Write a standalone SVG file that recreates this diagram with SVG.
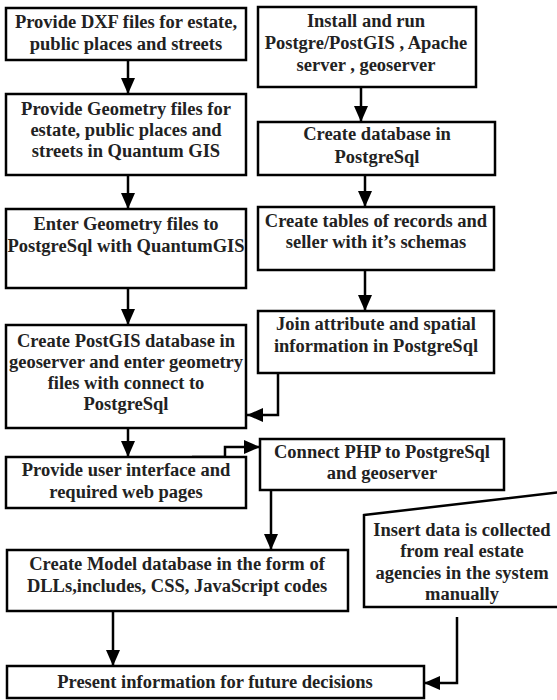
<svg xmlns="http://www.w3.org/2000/svg" width="557" height="700" viewBox="0 0 557 700">
<defs>
<style>
.box{fill:#fff;stroke:#000;stroke-width:2.5}
.t{font-family:"Liberation Serif","Times New Roman",serif;font-weight:bold;font-size:18.5px;fill:#222;text-anchor:middle}
.c{fill:none;stroke:#000;stroke-width:2.5;marker-end:url(#ah)}
</style>
<marker id="ah" viewBox="0 0 16 14" refX="16" refY="7" markerWidth="16" markerHeight="14" orient="auto" markerUnits="userSpaceOnUse">
<path d="M0,0 L16,7 L0,14 z" fill="#000"/>
</marker>
</defs>
<rect width="557" height="700" fill="#fff"/>
<g id="connectors">
<path class="c" d="M128,60 V94"/>
<path class="c" d="M128,175 V209"/>
<path class="c" d="M128,288 V325"/>
<path class="c" d="M128,428 V457"/>
<path class="c" d="M361,87 V122"/>
<path class="c" d="M365,175 V207"/>
<path class="c" d="M365,270 V311"/>
<path class="c" d="M278,373 V415 H247"/>
<path class="c" d="M192,457 H225 V447 H260"/>
<path class="c" d="M271,490 V550"/>
<path class="c" d="M113,611 V666"/>
<path class="c" d="M457,617 V683 H424"/>
</g>
<g id="n1"><rect class="box" x="6" y="8" width="240" height="52"/>
<text class="t" x="126" y="28">Provide DXF files for estate,</text>
<text class="t" x="126" y="50">public places and streets</text></g>
<g id="n2"><rect class="box" x="6" y="94" width="240" height="81"/>
<text class="t" x="126" y="115">Provide Geometry files for</text>
<text class="t" x="126" y="136">estate, public places and</text>
<text class="t" x="126" y="157">streets in Quantum GIS</text></g>
<g id="n3"><rect class="box" x="6" y="209" width="240" height="79"/>
<text class="t" x="126" y="230">Enter Geometry files to</text>
<text class="t" x="126" y="252">PostgreSql with QuantumGIS</text></g>
<g id="n4"><rect class="box" x="6" y="325" width="240" height="103"/>
<text class="t" x="126" y="347">Create PostGIS database in</text>
<text class="t" x="126" y="368">geoserver and enter geometry</text>
<text class="t" x="126" y="389">files with connect to</text>
<text class="t" x="126" y="410">PostgreSql</text></g>
<g id="n5"><rect class="box" x="6" y="457" width="240" height="51"/>
<text class="t" x="126" y="476">Provide user interface and</text>
<text class="t" x="126" y="498">required web pages</text></g>
<g id="a1"><rect class="box" x="258" y="7" width="218" height="80"/>
<text class="t" x="366" y="27">Install and run</text>
<text class="t" x="366" y="49">Postgre/PostGIS , Apache</text>
<text class="t" x="366" y="71">server , geoserver</text></g>
<g id="a2"><rect class="box" x="258" y="122" width="237" height="53"/>
<text class="t" x="377" y="140">Create database in</text>
<text class="t" x="377" y="163">PostgreSql</text></g>
<g id="a3"><rect class="box" x="258" y="207" width="236" height="63"/>
<text class="t" x="376" y="227">Create tables of records and</text>
<text class="t" x="376" y="248">seller with it’s schemas</text></g>
<g id="a4"><rect class="box" x="258" y="311" width="236" height="62"/>
<text class="t" x="376" y="330">Join attribute and spatial</text>
<text class="t" x="376" y="352">information in PostgreSql</text></g>
<g id="a5"><rect class="box" x="260" y="439" width="244" height="51"/>
<text class="t" x="382" y="458">Connect PHP to PostgreSql</text>
<text class="t" x="382" y="479">and geoserver</text></g>
<g id="m1"><rect class="box" x="7" y="550" width="341" height="61"/>
<text class="t" x="177" y="570">Create Model database in the form of</text>
<text class="t" x="177" y="592">DLLs,includes, CSS, JavaScript codes</text></g>
<g id="ins"><polygon class="box" points="364,515 562,492 562,607 364,607"/>
<text class="t" x="462" y="536">Insert data is collected</text>
<text class="t" x="462" y="557">from real estate</text>
<text class="t" x="462" y="579">agencies in the system</text>
<text class="t" x="462" y="600">manually</text></g>
<g id="fin"><rect class="box" x="7" y="666" width="417" height="32"/>
<text class="t" x="215" y="688">Present information for future decisions</text></g>
</svg>
